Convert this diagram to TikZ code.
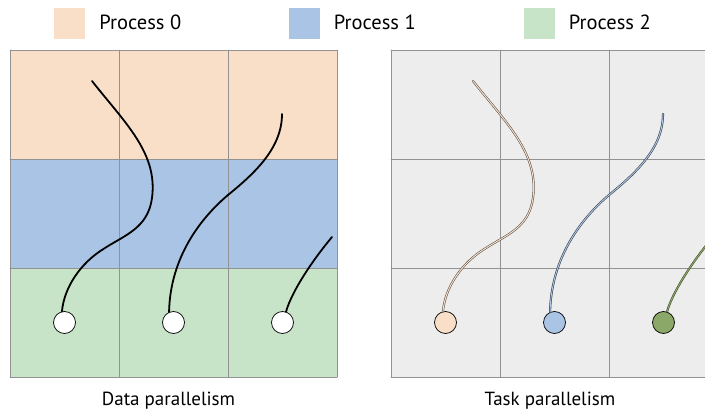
\documentclass[tikz,border=0pt]{standalone}
\usepackage{fontspec}
\setmainfont{PT Sans}

\definecolor{procA}{HTML}{F9DFC8}
\definecolor{procB}{HTML}{A9C4E4}
\definecolor{procC}{HTML}{C8E4C8}
\definecolor{procCdark}{HTML}{8BA868}
\definecolor{gridgray}{HTML}{929292}
\definecolor{taskbg}{HTML}{EDEDED}

\begin{document}
\begin{tikzpicture}[x=1pt, y=1pt, line cap=round, line join=round,
    cell/.style={draw=gridgray, line width=0.9pt},
    keybox/.style={minimum size=31pt, inner sep=0pt},
    worker/.style={circle, draw=black, line width=0.7pt, minimum size=22pt, inner sep=0pt},
    thread/.style={line width=1.8pt},
    taskthread/.style={line width=0.55pt, double distance=1pt},
    caption/.style={font=\fontsize{19}{22}\selectfont, inner sep=0pt, anchor=base},
    keytext/.style={font=\fontsize{20.5}{24}\selectfont, inner sep=0pt, anchor=base west}]

  \useasboundingbox (0,0) rectangle (705,413);
  \clip (0,0) rectangle (705,413);

  % Legend
  \node[keybox, fill=procA] (key0) at (69.5,389.5) {};
  \node[keybox, fill=procB] (key1) at (304,389.5) {};
  \node[keybox, fill=procC] (key2) at (539,389.5) {};
  \foreach \k in {0,1,2}
    \node[keytext] at ([xshift=14pt, yshift=-6pt]key\k.east) {Process \k};

  % Data parallelism: rows split between processes
  \fill[procC] (10,36) rectangle (337,145);
  \fill[procB] (10,145) rectangle (337,254);
  \fill[procA] (10,254) rectangle (337,363);

  % Task parallelism: one grey domain
  \fill[taskbg] (391,36) rectangle (718,363);

  % Grid lines, both panels
  \foreach \dx in {0,381} {
    \foreach \i in {0,...,3} {
      \draw[cell] (10+\dx+\i*109,36) -- (10+\dx+\i*109,363);
      \draw[cell] (10+\dx,36+\i*109) -- (337+\dx,36+\i*109);
    }
  }

  % Workers
  \node[worker, fill=white] (d0) at (64.5,90.5) {};
  \node[worker, fill=white] (d1) at (173.5,90.5) {};
  \node[worker, fill=white] (d2) at (282.5,90.5) {};
  \node[worker, fill=procA] (t0) at (445.5,90.5) {};
  \node[worker, fill=procB] (t1) at (554.5,90.5) {};
  \node[worker, fill=procCdark] (t2) at (663.5,90.5) {};

  % Thread starts
  \foreach \p/\dx in {d/0, t/381} {
    \coordinate (\p s0) at (92+\dx,332);
    \coordinate (\p s1) at (282+\dx,299);
    \coordinate (\p s2) at (332+\dx,176);
  }

  % Threads (data)
  \draw[thread] (ds0) .. controls (125,290) and (158,260) .. (152,215)
    .. controls (148,185) and (125,178) .. (105,165)
    .. controls (80,150) and (64,125) .. (d0.103);
  \draw[thread] (ds1) .. controls (282,265) and (255,240) .. (228,218)
    .. controls (195,190) and (170,150) .. (d1.113);
  \draw[thread] (ds2) .. controls (312,152) and (292,122) .. (d2.72);

  % Threads (task)
  \begin{scope}[xshift=381pt]
    \draw[taskthread, draw=black!65!procA, double=procA] (ts0)
      .. controls (125,290) and (158,260) .. (152,215)
      .. controls (148,185) and (125,178) .. (105,165)
      .. controls (80,150) and (64,125) .. (t0.103);
    \draw[taskthread, draw=black!70!procB, double=procB] (ts1)
      .. controls (282,265) and (255,240) .. (228,218)
      .. controls (195,190) and (170,150) .. (t1.113);
    \draw[taskthread, draw=black!55!procCdark, double=procCdark] (ts2)
      .. controls (312,152) and (292,122) .. (t2.72);
  \end{scope}

  % Captions
  \node[caption] (datacap) at (168.5,8) {Data parallelism};
  \node[caption] (taskcap) at (550,8) {Task parallelism};

\end{tikzpicture}
\end{document}
